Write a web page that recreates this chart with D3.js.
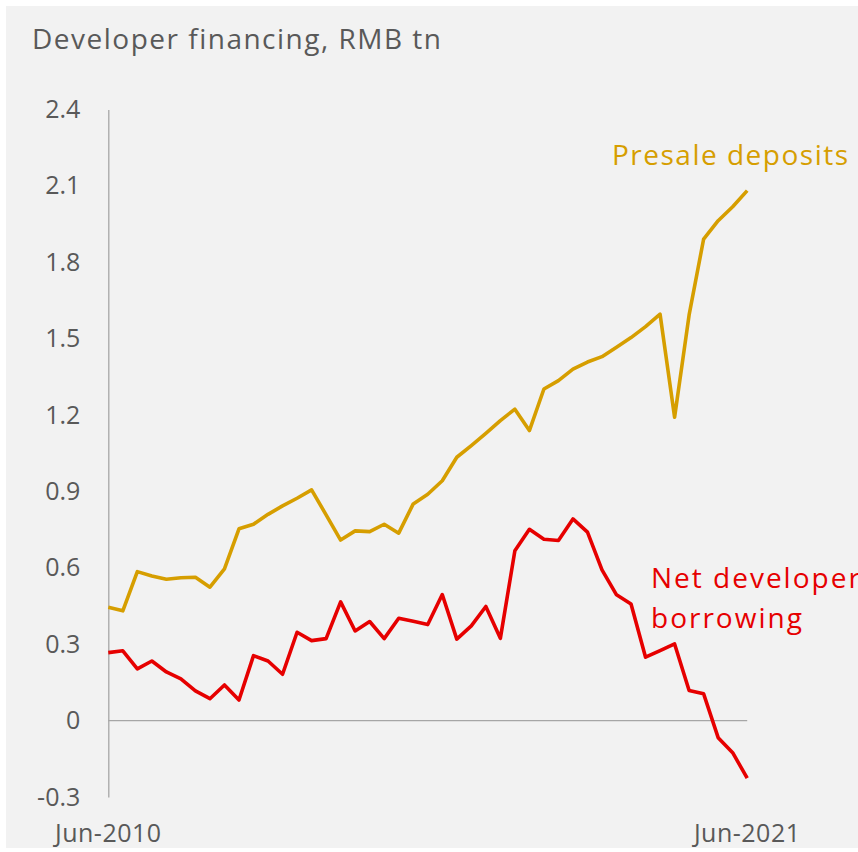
<!DOCTYPE html>
<html>
<head>
<meta charset="utf-8">
<script src="https://cdn.jsdelivr.net/npm/d3@7"></script>
<style>
  html, body { margin: 0; padding: 0; background: #ffffff; }
  text { font-family: "Open Sans", "Noto Sans", sans-serif; }
</style>
</head>
<body>
<div id="chart"></div>
<script>
// quarterly, Jun-2010 .. Jun-2021
var quarters = d3.range(45);
var xLabels = ["Jun-2010", "Jun-2021"];
var yTicks = [-0.3, 0, 0.3, 0.6, 0.9, 1.2, 1.5, 1.8, 2.1, 2.4];

var presale = [0.445, 0.431, 0.585, 0.568, 0.555, 0.561, 0.563, 0.524, 0.596, 0.753,
    0.771, 0.810, 0.843, 0.873, 0.906, 0.808, 0.709, 0.745, 0.742, 0.771,
    0.736, 0.851, 0.889, 0.942, 1.034, 1.080, 1.128, 1.178, 1.223, 1.139,
    1.302, 1.335, 1.380, 1.408, 1.429, 1.466, 1.504, 1.547, 1.596, 1.191,
    1.593, 1.891, 1.963, 2.018, 2.081];

var borrowing = [0.267, 0.274, 0.203, 0.234, 0.191, 0.164, 0.117, 0.086, 0.140, 0.081,
    0.255, 0.234, 0.182, 0.347, 0.314, 0.322, 0.466, 0.352, 0.389, 0.322,
    0.402, 0.390, 0.377, 0.495, 0.320, 0.372, 0.448, 0.323, 0.667, 0.751,
    0.712, 0.707, 0.792, 0.740, 0.592, 0.494, 0.458, 0.249, 0.275, 0.301,
    0.118, 0.105, -0.067, -0.126, -0.226];

var width = 858, height = 852;
var margin = {top: 109.4, right: 110.8, bottom: 55, left: 108.3};
var gold = "#d69e00", red = "#e60000", grey = "#595959";

var svg = d3.select("#chart").append("svg")
    .attr("width", width)
    .attr("height", height);

// panel background
svg.append("rect")
    .attr("x", 6).attr("y", 6)
    .attr("width", width - 6).attr("height", 842)
    .attr("fill", "#f2f2f2");

var x = d3.scaleLinear()
    .domain([0, quarters.length - 1])
    .range([margin.left, width - margin.right]);

var y = d3.scaleLinear()
    .domain([-0.3, 2.4])
    .range([797, margin.top]);

// title
svg.append("text")
    .attr("x", 32).attr("y", 49)
    .attr("fill", grey)
    .style("font-size", "28px")
    .style("letter-spacing", "1.5px")
    .text("Developer financing, RMB tn");

// y axis
var yAxis = svg.append("g")
    .attr("transform", "translate(" + margin.left + ",0)")
    .call(d3.axisLeft(y).tickValues(yTicks).tickSize(0).tickPadding(28)
        .tickFormat(function(d) { return d === 0 ? "0" : d.toFixed(1); }));
yAxis.select(".domain").attr("stroke", "#a6a6a6").attr("stroke-width", 1.3);
yAxis.selectAll("text")
    .attr("fill", grey)
    .style("font-size", "25px")
    .style("font-family", "'Open Sans', 'Noto Sans', sans-serif");

// zero line
svg.append("line")
    .attr("x1", x(0)).attr("x2", x(quarters.length - 1))
    .attr("y1", y(0)).attr("y2", y(0))
    .attr("stroke", "#a6a6a6")
    .attr("stroke-width", 1.3);

// x labels at first and last quarter
svg.selectAll(".xlab")
    .data(xLabels)
    .enter().append("text")
    .attr("class", "xlab")
    .attr("x", function(d, i) { return i === 0 ? x(0) : x(quarters.length - 1); })
    .attr("y", 842)
    .attr("text-anchor", "middle")
    .attr("fill", grey)
    .style("font-size", "25px")
    .style("letter-spacing", "0.5px")
    .text(function(d) { return d; });

var line = d3.line()
    .x(function(d, i) { return x(i); })
    .y(function(d) { return y(d); });

svg.append("path")
    .datum(presale)
    .attr("d", line)
    .attr("fill", "none")
    .attr("stroke", gold)
    .attr("stroke-width", 3.6)
    .attr("stroke-linejoin", "round");

svg.append("path")
    .datum(borrowing)
    .attr("d", line)
    .attr("fill", "none")
    .attr("stroke", red)
    .attr("stroke-width", 3.6)
    .attr("stroke-linejoin", "round");

// series labels
svg.append("text")
    .attr("x", 612).attr("y", 165)
    .attr("fill", gold)
    .style("font-size", "28px")
    .style("letter-spacing", "1.5px")
    .text("Presale deposits");

var netLabel = svg.append("text")
    .attr("x", 651)
    .attr("fill", red)
    .style("font-size", "28px")
    .style("letter-spacing", "2px");
netLabel.append("tspan").attr("x", 651).attr("y", 588).text("Net developer");
netLabel.append("tspan").attr("x", 651).attr("y", 628).text("borrowing");
</script>
</body>
</html>
